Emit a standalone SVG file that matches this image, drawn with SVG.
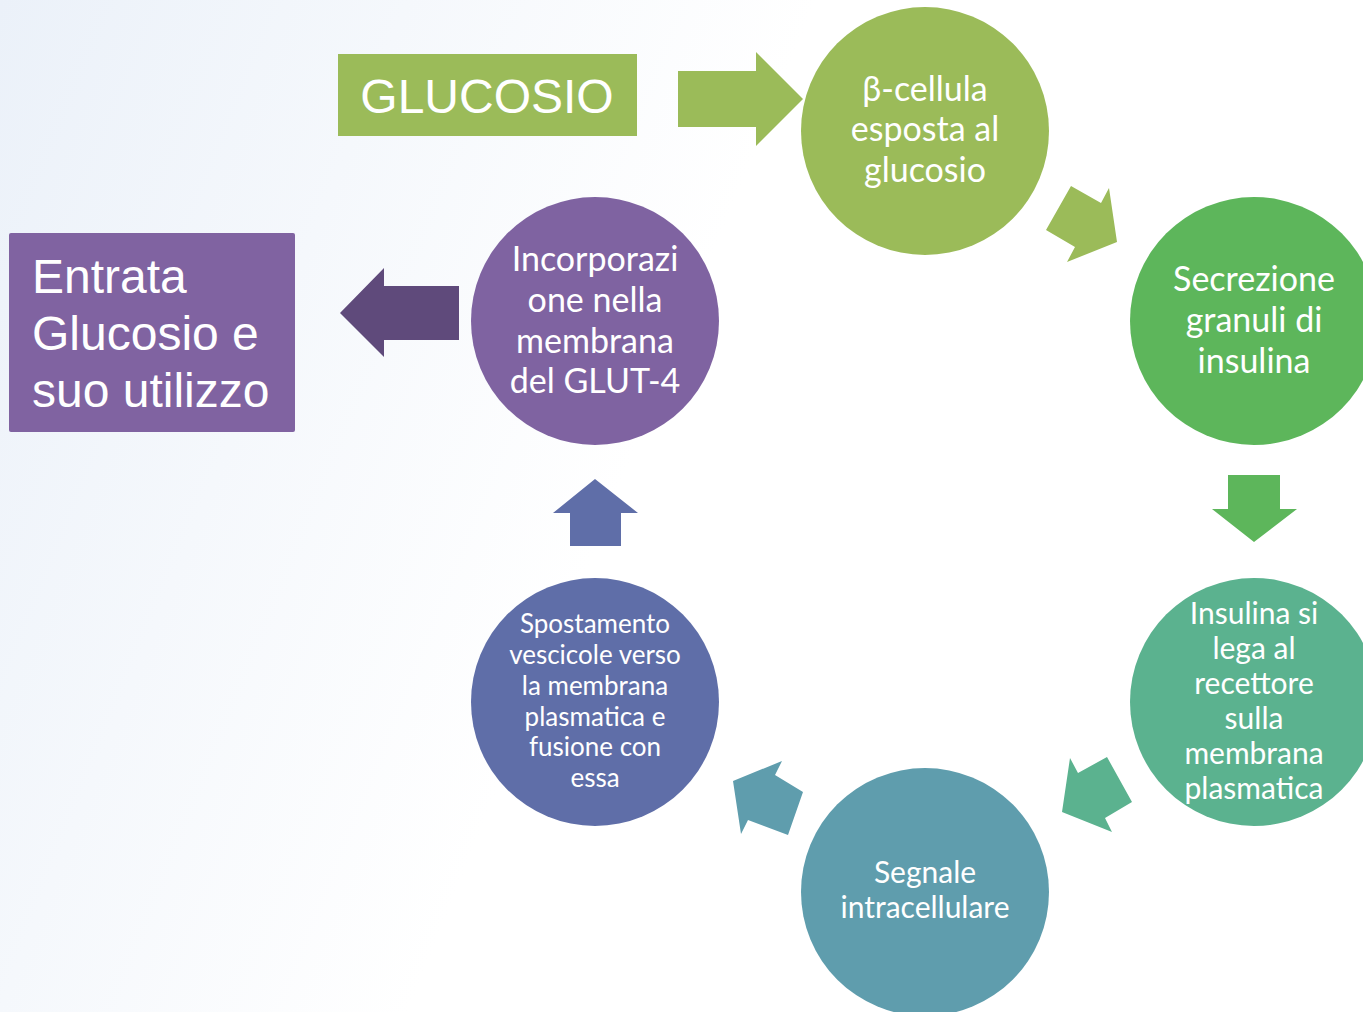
<svg xmlns="http://www.w3.org/2000/svg" width="1363" height="1012" viewBox="0 0 1363 1012">
  <defs>
    <linearGradient id="bg" x1="0" y1="0" x2="1" y2="0.3">
      <stop offset="0" stop-color="#EBF1F9"/>
      <stop offset="0.55" stop-color="#FFFFFF"/>
      <stop offset="1" stop-color="#FFFFFF"/>
    </linearGradient>
    <style>
      .lbl { font-family: Lato, "Open Sans", sans-serif; fill: #FFFFFF; text-anchor: middle; }
      .l34 { font-size: 34px; }
      .l30 { font-size: 30px; }
      .l26 { font-size: 26px; }
      .box { font-family: "Liberation Sans", Arial, sans-serif; fill: #FFFFFF; font-size: 48px; }
    </style>
  </defs>

  <rect x="0" y="0" width="1363" height="1012" fill="url(#bg)"/>

  <!-- connectors: block arrows around the cycle -->
  <g id="connectors">
    <polygon fill="#9BBB59" points="678,71 756,71 756,52 803,99 756,146 756,127 678,127"/>
    <polygon fill="#9BBB59" points="1071,186 1101,203 1109,188 1117,242 1067,262 1075,247 1046,230"/>
    <polygon fill="#5DB65B" points="1228,475 1280,475 1280,509 1297,509 1254,542 1212,509 1228,509"/>
    <polygon fill="#5BB28F" points="1062,812 1070,758 1078,773 1107,757 1132,802 1105,818 1112,832"/>
    <polygon fill="#5F9DAD" points="733,781 782,761 775,775 803,792 788,835 748,820 741,834"/>
    <polygon fill="#5F6EA8" points="595,479 638,513 621,513 621,546 570,546 570,513 553,513"/>
    <polygon fill="#5F4A7B" points="340,313 384,268 384,286 459,286 459,340 384,340 384,357"/>
  </g>

  <g id="glucosio">
    <rect x="338" y="54" width="299" height="82" fill="#9BBB59"/>
    <text class="box" x="487" y="113" text-anchor="middle">GLUCOSIO</text>
  </g>

  <g id="entrata">
    <rect x="9" y="233" width="286" height="199" rx="2" fill="#8063A1"/>
    <text class="box" x="32" y="293">Entrata</text>
    <text class="box" x="32" y="350">Glucosio e</text>
    <text class="box" x="32" y="407">suo utilizzo</text>
  </g>

  <g id="beta-cellula">
    <circle cx="925" cy="131" r="124" fill="#9BBB59"/>
    <text class="lbl l34" x="925" y="101">β-cellula</text>
    <text class="lbl l34" x="925" y="141">esposta al</text>
    <text class="lbl l34" x="925" y="182">glucosio</text>
  </g>

  <g id="secrezione">
    <circle cx="1254" cy="321" r="124" fill="#5DB65B"/>
    <text class="lbl l34" x="1254" y="291">Secrezione</text>
    <text class="lbl l34" x="1254" y="332">granuli di</text>
    <text class="lbl l34" x="1254" y="373">insulina</text>
  </g>

  <g id="recettore">
    <circle cx="1254" cy="702" r="124" fill="#5BB28F"/>
    <text class="lbl l30" x="1254" y="624">Insulina si</text>
    <text class="lbl l30" x="1254" y="659">lega al</text>
    <text class="lbl l30" x="1254" y="694">recettore</text>
    <text class="lbl l30" x="1254" y="729">sulla</text>
    <text class="lbl l30" x="1254" y="764">membrana</text>
    <text class="lbl l30" x="1254" y="799">plasmatica</text>
  </g>

  <g id="segnale">
    <circle cx="925" cy="892" r="124" fill="#5F9DAD"/>
    <text class="lbl l30" x="925" y="883">Segnale</text>
    <text class="lbl l30" x="925" y="918">intracellulare</text>
  </g>

  <g id="spostamento">
    <circle cx="595" cy="702" r="124" fill="#5F6EA8"/>
    <text class="lbl l26" x="595" y="633">Spostamento</text>
    <text class="lbl l26" x="595" y="664">vescicole verso</text>
    <text class="lbl l26" x="595" y="695">la membrana</text>
    <text class="lbl l26" x="595" y="726">plasmatica e</text>
    <text class="lbl l26" x="595" y="756">fusione con</text>
    <text class="lbl l26" x="595" y="787">essa</text>
  </g>

  <g id="incorporazione">
    <circle cx="595" cy="321" r="124" fill="#7F63A1"/>
    <text class="lbl l34" x="595" y="271">Incorporazi</text>
    <text class="lbl l34" x="595" y="312">one nella</text>
    <text class="lbl l34" x="595" y="353">membrana</text>
    <text class="lbl l34" x="595" y="393">del GLUT-4</text>
  </g>
</svg>
